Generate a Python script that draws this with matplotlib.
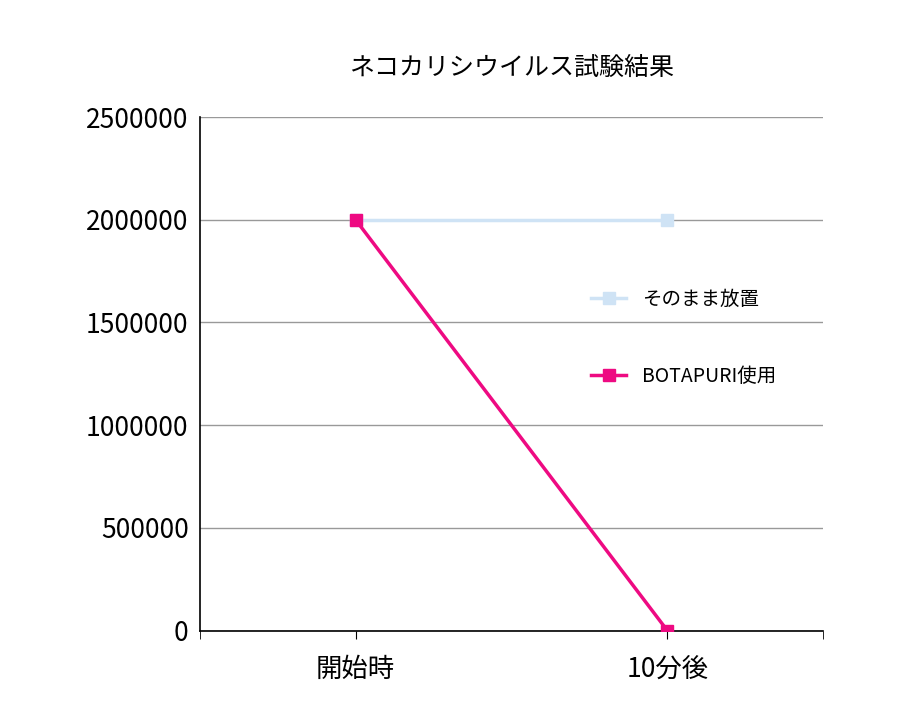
import matplotlib
matplotlib.use("Agg")
import matplotlib.pyplot as plt

plt.rcParams['font.family'] = ['Noto Sans CJK JP', 'DejaVu Sans']

categories = ['開始時', '10分後']
leave_values = [2000000, 2000000]
botapuri_values = [2000000, 0]
yticks = [0, 500000, 1000000, 1500000, 2000000, 2500000]

fig = plt.figure(figsize=(9.2, 7.2), dpi=100)
ax = fig.add_axes([0.217, 0.124, 0.678, 0.7135])

x = list(range(len(categories)))
ax.plot(x, leave_values, color='#cfe3f5', lw=2.5, marker='s', ms=8, label='そのまま放置', zorder=3)
ax.plot(x, botapuri_values, color='#ee0a82', lw=2.5, marker='s', ms=8, label='BOTAPURI使用', zorder=4)

ax.set_xlim(-0.5, 1.5)
ax.set_ylim(0, 2500000)
ax.set_yticks(yticks)
ax.set_yticklabels([str(v) for v in yticks], fontsize=19)
ax.set_xticks(x)
ax.set_xticklabels(categories, fontsize=19)
ax.set_xticks([-0.5, 1.5], minor=True)
ax.tick_params(axis='x', which='both', direction='out', length=6, color='black', pad=12)
ax.tick_params(axis='y', length=0, pad=8)
ax.grid(axis='y', color='#999999', lw=1)
ax.set_axisbelow(True)
for s in ['top', 'right']:
    ax.spines[s].set_visible(False)
ax.spines['left'].set_linewidth(1.2)
ax.spines['bottom'].set_linewidth(1.2)

ax.set_title('ネコカリシウイルス試験結果', fontsize=18, pad=30)
ax.legend(loc='upper left', bbox_to_anchor=(0.6, 0.7), frameon=False, fontsize=14,
          labelspacing=2.9, handlelength=1.8)

fig.savefig('out.png')
